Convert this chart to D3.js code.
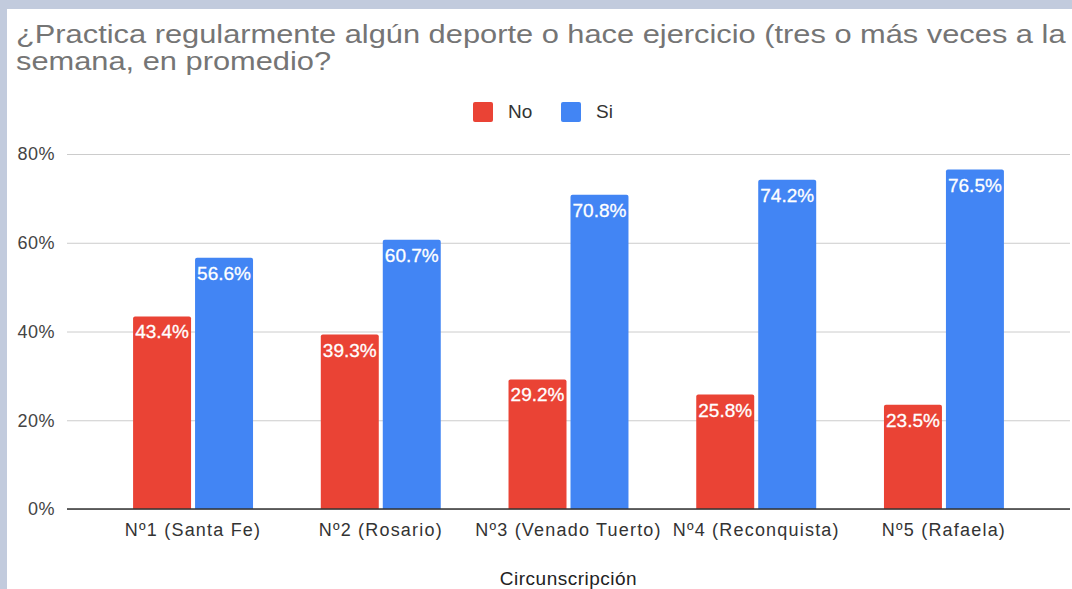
<!DOCTYPE html>
<html>
<head>
<meta charset="UTF-8" />
<title>Práctica de deporte por circunscripción</title>
<script src="https://cdn.jsdelivr.net/npm/d3@7"></script>
<style>
  body { margin: 0; background: #c2cbdd; }
  svg { display: block; font-family: "Liberation Sans", Arial, sans-serif; }
</style>
</head>
<body>
<div id="chart"></div>
<script>
  const categories = ['Nº1 (Santa Fe)', 'Nº2 (Rosario)', 'Nº3 (Venado Tuerto)', 'Nº4 (Reconquista)', 'Nº5 (Rafaela)'];
  const seriesNames = ['No', 'Si'];
  const noValues = [43.4, 39.3, 29.2, 25.8, 23.5];
  const siValues = [56.6, 60.7, 70.8, 74.2, 76.5];
  const yTicks = [0, 20, 40, 60, 80];
  const titleLines = ['¿Practica regularmente algún deporte o hace ejercicio (tres o más veces a la', 'semana, en promedio?'];
  const xTitle = 'Circunscripción';

  const colors = { No: '#ea4335', Si: '#4285f4' };
  const w = 1072, h = 589;

  const rows = categories.map((c, i) => ({ cat: c, No: noValues[i], Si: siValues[i] }));

  const svg = d3.select('#chart')
    .append('svg')
    .attr('width', w)
    .attr('height', h);

  // white card, the page border shows on the left and top
  svg.append('rect')
    .attr('x', 7).attr('y', 9)
    .attr('width', w - 7).attr('height', h - 9)
    .attr('fill', '#fff');

  const xScale = d3.scaleBand()
    .domain(categories)
    .range([67, 1070])
    .paddingInner(0.361)
    .paddingOuter(0.352);

  const xInner = d3.scaleBand()
    .domain(seriesNames)
    .range([0, xScale.bandwidth()])
    .paddingInner(0.0645);

  const yScale = d3.scaleLinear()
    .domain([0, 80])
    .range([509, 154]);

  // gridlines + labels
  const yAxis = d3.axisLeft(yScale)
    .tickValues(yTicks)
    .tickFormat(d => d + '%')
    .tickSize(-(1070 - 67))
    .tickPadding(12);

  const gy = svg.append('g')
    .attr('transform', 'translate(67,0)')
    .call(yAxis);
  gy.select('.domain').remove();
  gy.selectAll('.tick line').attr('stroke', '#cccccc');
  gy.selectAll('.tick text')
    .attr('fill', '#444')
    .style('font-size', '18px')
    .style('letter-spacing', '0.5px');

  // bars
  const groups = svg.append('g')
    .selectAll('g')
    .data(rows)
    .enter()
    .append('g')
    .attr('transform', d => 'translate(' + xScale(d.cat) + ',0)');

  groups.selectAll('path')
    .data(d => seriesNames.map(k => ({ key: k, value: d[k] })))
    .enter()
    .append('path')
    .attr('fill', d => colors[d.key])
    .attr('d', d => {
      const x0 = xInner(d.key), x1 = x0 + xInner.bandwidth();
      const y0 = yScale(0), y1 = yScale(d.value), r = 2;
      return `M${x0},${y0}V${y1 + r}Q${x0},${y1} ${x0 + r},${y1}H${x1 - r}Q${x1},${y1} ${x1},${y1 + r}V${y0}Z`;
    });

  groups.selectAll('text')
    .data(d => seriesNames.map(k => ({ key: k, value: d[k] })))
    .enter()
    .append('text')
    .attr('x', d => xInner(d.key) + xInner.bandwidth() / 2)
    .attr('y', d => yScale(d.value) + 22)
    .attr('text-anchor', 'middle')
    .attr('fill', '#fff')
    .attr('stroke', '#fff')
    .attr('stroke-width', 0.3)
    .style('font-size', '19px')
    .text(d => d.value.toFixed(1) + '%');

  // x axis
  const xAxis = d3.axisBottom(xScale).tickSize(0).tickPadding(14);
  const gx = svg.append('g')
    .attr('transform', 'translate(0,509)')
    .call(xAxis);
  gx.select('.domain')
    .attr('d', 'M67,0H1070')
    .attr('stroke', '#333')
    .attr('stroke-width', 1.5);
  gx.selectAll('.tick text')
    .attr('fill', '#333')
    .style('font-size', '18px')
    .style('letter-spacing', '1.2px');

  svg.append('text')
    .attr('x', (xScale.range()[0] + xScale.range()[1]) / 2)
    .attr('y', 585)
    .attr('text-anchor', 'middle')
    .attr('fill', '#222')
    .style('font-size', '19px')
    .style('letter-spacing', '0.5px')
    .text(xTitle);

  // title, stretched to the width it has in the original
  svg.append('text')
    .attr('fill', '#757575')
    .attr('transform', 'translate(16,0) scale(1.185,1)')
    .style('font-size', '26px')
    .selectAll('tspan')
    .data(titleLines)
    .enter()
    .append('tspan')
    .attr('x', 0)
    .attr('y', (d, i) => 43 + i * 27)
    .text(d => d);

  // legend
  const legendX = [473, 561];
  const legend = svg.append('g')
    .selectAll('g')
    .data(seriesNames)
    .enter()
    .append('g')
    .attr('transform', (d, i) => 'translate(' + legendX[i] + ',102)');
  legend.append('rect')
    .attr('width', 20).attr('height', 20)
    .attr('rx', 2)
    .attr('fill', d => colors[d]);
  legend.append('text')
    .attr('x', 35).attr('y', 16)
    .attr('fill', '#333')
    .style('font-size', '19px')
    .text(d => d);
</script>
</body>
</html>
